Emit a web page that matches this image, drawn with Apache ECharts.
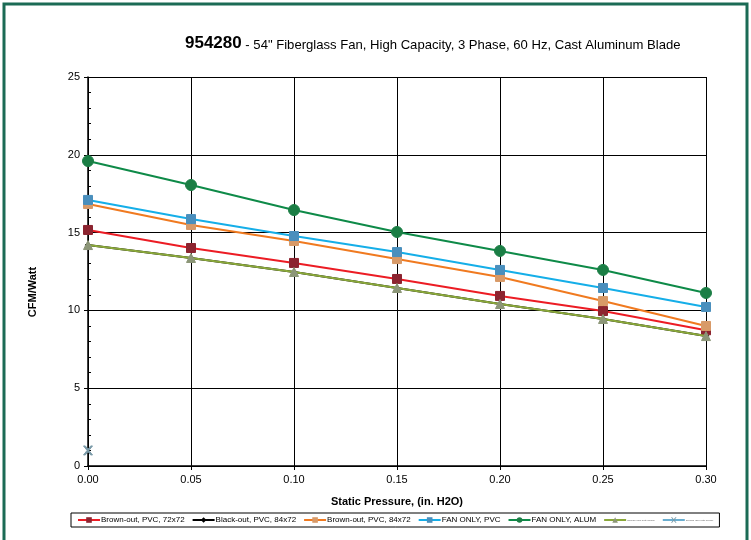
<!DOCTYPE html>
<html><head><meta charset="utf-8">
<script src="https://cdn.jsdelivr.net/npm/echarts@6/dist/echarts.min.js"></script>
<style>html,body{margin:0;padding:0;background:#fff}#c{width:751px;height:540px}</style>
</head><body><div id="c"></div>
<script>
const pressure = [0.00, 0.05, 0.10, 0.15, 0.20, 0.25, 0.30];
const brownPvc72 = [15.17, 14.01, 13.05, 12.02, 10.93, 9.96, 8.72];
const blackPvc84 = [14.2, 13.37, 12.47, 11.44, 10.41, 9.45, 8.35];
const brownPvc84 = [16.84, 15.49, 14.46, 13.30, 12.15, 10.60, 9.00];
const fanOnlyPvc = [17.10, 15.87, 14.78, 13.75, 12.60, 11.44, 10.22];
const fanOnlyAlum = [19.60, 18.06, 16.45, 15.04, 13.82, 12.60, 11.12];
const series6 = [14.2, 13.37, 12.47, 11.44, 10.41, 9.45, 8.35];
const series7X = [0.00];
const series7 = [1.0];
const names = ['Brown-out, PVC, 72x72','Black-out, PVC, 84x72','Brown-out, PVC, 84x72','FAN ONLY, PVC','FAN ONLY, ALUM','Series6 (see note below)','Series7 (see note below)'];
const yTicks = [0,5,10,15,20,25];

const pairs = (xs, ys) => ys.map((v,i)=>[xs[i], v]);
const chart = echarts.init(document.getElementById('c'), null, {renderer:'canvas'});
const F = 'Liberation Sans, Arial, sans-serif';
function line(name, ys, xs, color, mColor, symbol, size, z, lw) {
  return {
    name, type:'line', data: pairs(xs, ys), z,
    symbol, symbolSize: size, showSymbol: true,
    lineStyle:{color, width: lw || 2},
    itemStyle:{color: mColor, borderColor: mColor},
    emphasis:{disabled:true}, animation:false
  };
}
chart.setOption({
  animation:false,
  title:{
    text:'{b|954280}{n| - 54" Fiberglass Fan, High Capacity, 3 Phase, 60 Hz, Cast Aluminum Blade}',
    left:180, top:30,
    textStyle:{rich:{
      b:{fontFamily:'Liberation Sans, Arial', fontWeight:'bold', fontSize:17, color:'#000'},
      n:{fontFamily:'Liberation Sans, Arial', fontWeight:'normal', fontSize:13.1, color:'#000', padding:[3,0,0,0]}
    }}
  },
  grid:{left:88, right:45, top:77, bottom:74, containLabel:false},
  legend:{
    data: names, bottom:13, left:71,
    itemWidth:22, itemHeight:7, itemGap:7,
    textStyle:{fontSize:8, fontFamily:F, color:'#000', padding:[0,0,0,-4],
      rich:{t:{fontSize:2.5, fontFamily:F, color:'#555'}}},
    formatter: n => (n.indexOf('Series') === 0 ? '{t|' + n + '}' : n),
    borderColor:'#000', borderWidth:1, padding:[3,6,3,6], borderRadius:0
  },
  xAxis:{
    type:'value', min:0, max:0.3, interval:0.05,
    name:'Static Pressure, (in. H2O)', nameLocation:'middle', nameGap:30,
    nameTextStyle:{fontWeight:'bold', fontSize:11, fontFamily:F, color:'#000'},
    axisLine:{show:true, onZero:false, lineStyle:{color:'#000', width:1.5}},
    axisTick:{show:true, length:4, lineStyle:{color:'#000'}},
    axisLabel:{formatter:v=>v.toFixed(2), fontSize:11, fontFamily:F, color:'#000', margin:8},
    splitLine:{show:true, lineStyle:{color:'#000', width:1}}
  },
  yAxis:{
    type:'value', min:0, max:25, interval:5,
    axisLine:{show:true, lineStyle:{color:'#000', width:1.5}},
    axisTick:{show:true, length:4, lineStyle:{color:'#000'}},
    minorTick:{show:true, splitNumber:5, length:-3, lineStyle:{color:'#000'}},
    axisLabel:{fontSize:11, fontFamily:F, color:'#000', margin:8, formatter:v=>yTicks.includes(v)?String(v):''},
    splitLine:{show:true, lineStyle:{color:'#000', width:1}}
  },
  graphic:[
    {type:'rect', shape:{x:4, y:4, width:743, height:560}, style:{fill:'none', stroke:'#1b6b55', lineWidth:3}, silent:true},
    {type:'text', x:33, y:292, rotation:Math.PI/2, style:{text:'CFM/Watt', font:'bold 11px Liberation Sans, Arial', fill:'#000', align:'center', verticalAlign:'middle'}}
  ],
  series:[
    line(names[0], brownPvc72, pressure, '#ec1c24', '#8c2430', 'rect', 9, 2),
    line(names[1], blackPvc84, pressure, '#000000', '#000000', 'diamond', 6, 2),
    line(names[2], brownPvc84, pressure, '#f07a20', '#d89a68', 'rect', 9, 2),
    line(names[3], fanOnlyPvc, pressure, '#15aee8', '#4a8fbd', 'rect', 9, 2),
    line(names[4], fanOnlyAlum, pressure, '#0e8a48', '#1b7e45', 'circle', 11, 2),
    line(names[5], series6, pressure, '#8aa83a', '#8c9678', 'triangle', 9, 3),
    line(names[6], series7, series7X, '#6aaed0', '#7a9aa8', 'path://M0,0L2,0L5,3L8,0L10,0L6,4L10,8L8,8L5,5L2,8L0,8L4,4Z', 9, 3)
  ]
});
</script></body></html>
